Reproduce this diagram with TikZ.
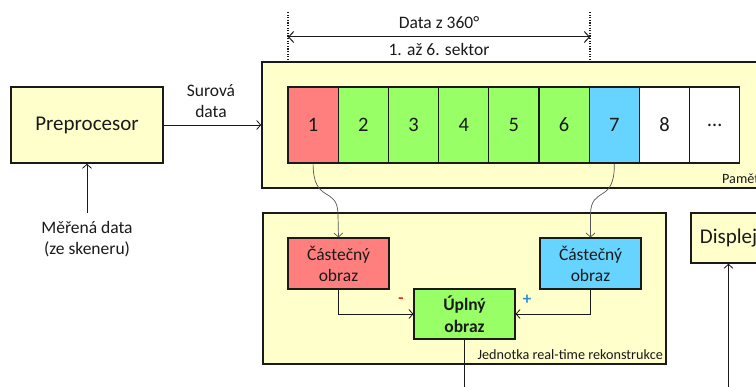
\documentclass[tikz,border=0pt]{standalone}
\usepackage{fontspec}
\setmainfont{Carlito}
\usetikzlibrary{arrows.meta}
\definecolor{boxyellow}{HTML}{FFFFCC}
\definecolor{cellred}{HTML}{FF7F7F}
\definecolor{cellgreen}{HTML}{99FF66}
\definecolor{cellblue}{HTML}{66D4FF}
\definecolor{ink}{HTML}{1A1A1A}
\definecolor{wire}{HTML}{555555}
\definecolor{minusred}{HTML}{FF2020}
\definecolor{plusblue}{HTML}{2E8FD0}

\tikzset{
  frame/.style={draw=ink, line width=1.6pt, fill=boxyellow, inner sep=0pt},
  cellbox/.style={draw=ink, line width=1.1pt, minimum width=50.2pt, minimum height=76pt,
    inner sep=0pt, font=\fontsize{20.5}{24}\selectfont, text=ink},
  imgbox/.style={draw=ink, line width=1.1pt, minimum width=101pt, minimum height=51pt,
    inner sep=0pt, align=center, font=\fontsize{17.5}{21}\selectfont, text=ink},
  bigtext/.style={font=\fontsize{21}{24}\selectfont, text=ink},
  label/.style={align=center, inner sep=0pt, font=\fontsize{17.5}{21.5}\selectfont, text=ink},
  small/.style={inner sep=0pt, font=\fontsize{14.2}{17}\selectfont, text=ink},
  tip/.style={-{Straight Barb[length=4pt,width=9pt]}},
  conn/.style={draw=ink, line width=0.8pt, tip},
  wavy/.style={draw=wire, line width=0.7pt, tip},
  guide/.style={draw=ink, line width=1.1pt, dash pattern=on 1.3pt off 1.3pt},
}

\begin{document}
\begin{tikzpicture}[x=1pt, y=-1pt]
\useasboundingbox (0,0) rectangle (756,387);
\clip (0,0) rectangle (756,387);

% preprocessor
\node[frame, bigtext, minimum width=152pt, minimum height=76pt] (pre) at (87,125) {Preprocesor};

% memory with sector cells
\node[frame, minimum width=518pt, minimum height=126pt] (mem) at (521,125) {};
\node[small, anchor=west] (memlbl) at (722,179) {Paměť};
\foreach \i/\t/\c in {1/1/cellred, 2/2/cellgreen, 3/3/cellgreen, 4/4/cellgreen, 5/5/cellgreen,
                      6/6/cellgreen, 7/7/cellblue, 8/8/white, 9/\ldots/white}
  \node[cellbox, fill=\c] (c\i) at ({288+25.1+50.2*(\i-1)},125) {\t};

% reconstruction unit
\node[frame, minimum width=403pt, minimum height=151pt] (rec) at (464.5,288.5) {};
\node[small, anchor=east] (reclbl) at (663,355) {Jednotka real-time rekonstrukce};
\node[imgbox, fill=cellred] (red) at (338.5,263.5) {Částečný\\obraz};
\node[imgbox, fill=cellblue] (blue) at (590.5,263.5) {Částečný\\obraz};
\node[imgbox, fill=cellgreen, minimum height=50pt, font=\fontsize{17.5}{22}\selectfont\bfseries] (full) at (464.5,314) {Úplný\\obraz};
\node[inner sep=0pt, text=minusred, font=\fontsize{17}{20}\selectfont\bfseries] (minus) at (401,301) {-};
\node[inner sep=0pt, text=plusblue, font=\fontsize{17}{20}\selectfont\bfseries] (plus) at (527,300) {+};

% display
\node[frame, bigtext, minimum width=75pt, minimum height=50pt] (disp) at (728.5,238) {Displej};

% raw data path
\path[conn] (pre.east) -- (mem.west);
\node[label] (rawlbl) at (211,101) {Surová\\data};
\coordinate (scan) at (87,213);
\path[conn] (scan) -- (pre.south);
\node[label] (scanlbl) at (87,239) {Měřená data\\(ze skeneru)};

% angular span of one full turn
\coordinate (dA) at (288,12);
\coordinate (dB) at (590,12);
\path[guide] (dA) -- (dA |- mem.north);
\path[guide] (dB) -- (dB |- mem.north);
\coordinate (aA) at (288,37);
\coordinate (aB) at (590,37);
\draw[ink, line width=1pt, {Straight Barb[length=5pt,width=11pt]}-{Straight Barb[length=5pt,width=11pt]}] (aA) -- (aB);
\node[label] (spanlbl) at (439,23) {Data z 360°};
\node[label] (sectlbl) at (439,49) {1. až 6. sektor};

% sectors feeding the partial images
\path[wavy] (c1.south) .. controls (313,205) and (338,185) .. (338,215) -- (red.north);
\path[wavy] (c7.south) .. controls (615,205) and (590.5,185) .. (590.5,215) -- (blue.north);

% combining the partial images
\path[conn] (red.south) |- (full.west);
\path[conn] (blue.south) |- (full.east);

% outputs leaving the view
\coordinate (fullout) at (464.5,400);
\draw[ink, line width=0.8pt] (full.south) -- (fullout);
\coordinate (dispin) at (728.5,400);
\path[conn] (dispin) -- (disp.south);
\end{tikzpicture}
\end{document}
